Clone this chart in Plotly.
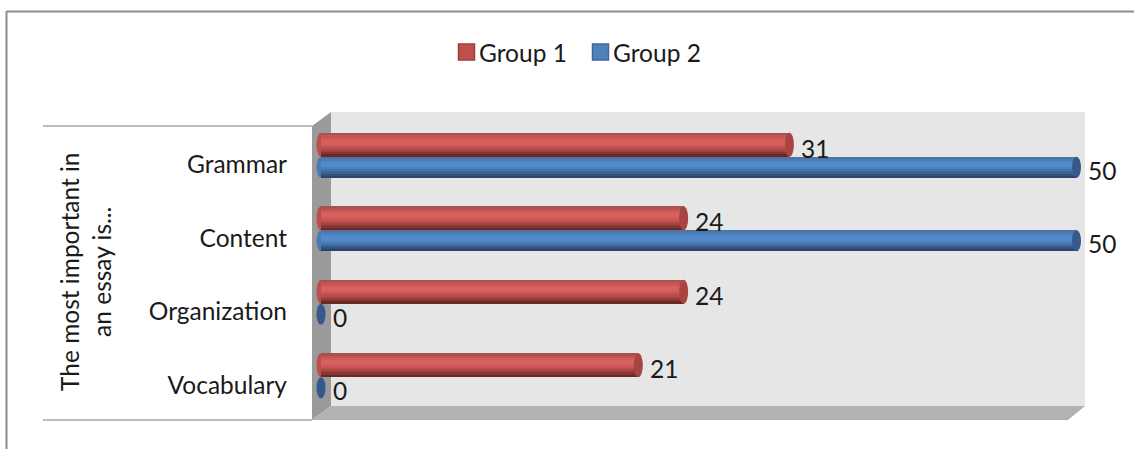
import plotly.graph_objects as go

# ---- data ----
categories = ["Grammar", "Content", "Organization", "Vocabulary"]
group1 = [31, 24, 24, 21]
group2 = [50, 50, 0, 0]
series_names = ["Group 1", "Group 2"]
outer_label = "The most important in<br>an essay is..."

# ---- layout constants (pixels) ----
W, H = 1134, 449
X_ZERO = 321             # pixel of value 0
X_SCALE = 15.11          # pixels per unit
PLOT_L, PLOT_R = 300, 1100
Y_TOP, Y_BOT = 126, 420  # category axis ends
FONT = "Lato, Carlito, Calibri, sans-serif"
FS = 24.5
TXT = "#1a1a1a"
CAP = 4.5

def px(x): return x / W
def py(y): return 1 - y / H
def path(points):
    return "M " + " L ".join(f"{px(x):.5f},{py(y):.5f}" for x, y in points) + " Z"

red_top, red_bot = -30, -6
blue_top, blue_bot = -6, 15
red_shades = ["#a85250", "#c25654", "#d05c5a", "#d8615e", "#d65f5c", "#cb5755", "#b94d4b",
              "#a24240", "#873533", "#6a2725"]
blue_shades = ["#4f74a3", "#4c7ab2", "#5086c4", "#548bcd", "#528acb", "#4c80bd", "#4573aa",
               "#3c6494", "#32537c", "#2b4468"]
red_cap, blue_cap = "#a84543", "#35598a"
red_left, blue_left = "#bb4f4d", "#4a7bb6"
CAT_PX = (Y_BOT - Y_TOP) / len(categories)

fig = go.Figure()

def add_series(name, values, top, bot, shades):
    step = (bot - top) / len(shades)
    for i, c in enumerate(shades):
        fig.add_trace(go.Bar(
            y=categories, x=values, orientation="h", name=name,
            offset=(top + i * step) / CAT_PX,
            width=(bot - top - i * step) / CAT_PX,
            marker=dict(color=c, line=dict(width=0)),
            showlegend=False, hoverinfo="skip",
        ))

add_series(series_names[1], group2, blue_top, blue_bot, blue_shades)
add_series(series_names[0], group1, red_top, red_bot, red_shades)

# legend text entries; the swatches are drawn larger as shapes below
for nm, col in [(series_names[0], "rgba(192,80,77,0)"), (series_names[1], "rgba(79,129,189,0)")]:
    fig.add_trace(go.Bar(y=[None], x=[None], orientation="h", name=nm,
                         marker=dict(color=col, line=dict(width=0))))

shapes = [
    dict(type="line", xref="paper", yref="paper", x0=px(6.5), x1=1, y0=py(11.5), y1=py(11.5),
         line=dict(color="#8c8c8c", width=2), layer="below"),
    dict(type="line", xref="paper", yref="paper", x0=px(6.5), x1=px(6.5), y0=py(11), y1=0,
         line=dict(color="#8c8c8c", width=2), layer="below"),
    dict(type="path", xref="paper", yref="paper", layer="below", line_width=0, fillcolor="#e6e6e6",
         path=path([(331, 112), (1085, 112), (1085, 406), (331, 406)])),
    dict(type="path", xref="paper", yref="paper", layer="below", line_width=0, fillcolor="#9a9a9a",
         path=path([(312, 126), (331, 112), (331, 406), (312, 420)])),
    dict(type="path", xref="paper", yref="paper", layer="below", line_width=0, fillcolor="#b2b2b2",
         path=path([(331, 406), (1085, 406), (1068, 420), (312, 420)])),
    dict(type="line", xref="paper", yref="paper", x0=px(43), x1=px(312), y0=py(126), y1=py(126),
         line=dict(color="#a6a6a6", width=1.5), layer="below"),
    dict(type="line", xref="paper", yref="paper", x0=px(43), x1=px(312), y0=py(420), y1=py(420),
         line=dict(color="#a6a6a6", width=1.5), layer="below"),
    # legend swatches
    dict(type="rect", xref="paper", yref="paper", x0=px(458.5), x1=px(474.5), y0=py(60), y1=py(44),
         fillcolor="#c0504d", line=dict(color="#98403e", width=1.5), layer="below"),
    dict(type="rect", xref="paper", yref="paper", x0=px(592.5), x1=px(608.5), y0=py(60), y1=py(44),
         fillcolor="#4f81bd", line=dict(color="#3f6797", width=1.5), layer="below"),
]

def add_caps(values, top, bot, left_col, cap_col):
    centre = -(top + bot) / 2
    half = (bot - top) / 2
    for cat, v in zip(categories, values):
        if v > 0:
            shapes.append(dict(type="circle", xsizemode="pixel", ysizemode="pixel", xref="x", yref="y",
                               xanchor=0, yanchor=cat, x0=-CAP, x1=CAP,
                               y0=centre - half, y1=centre + half,
                               fillcolor=left_col, line_width=0, layer="below"))
        shapes.append(dict(type="circle", xsizemode="pixel", ysizemode="pixel", xref="x", yref="y",
                           xanchor=v, yanchor=cat, x0=-CAP, x1=CAP,
                           y0=centre - half, y1=centre + half,
                           fillcolor=cap_col, line_width=0, layer="above"))

add_caps(group1, red_top, red_bot, red_left, red_cap)
add_caps(group2, blue_top, blue_bot, blue_left, blue_cap)

annotations = []
for vals, dy in [(group1, 14.5), (group2, -7.5)]:
    for cat, v in zip(categories, vals):
        annotations.append(dict(x=v, y=cat, xref="x", yref="y", text=str(v), showarrow=False,
                                xanchor="left", yanchor="middle", xshift=9.5, yshift=dy,
                                font=dict(size=FS, color=TXT, family=FONT)))
annotations.append(dict(xref="paper", yref="paper", x=px(85), y=py(272), text=outer_label,
                        textangle=-90, showarrow=False, xanchor="center", yanchor="middle",
                        font=dict(size=FS, color=TXT, family=FONT), align="center"))

fig.update_layout(
    width=W, height=H, autosize=False,
    margin=dict(l=0, r=0, t=0, b=0, pad=0),
    paper_bgcolor="white", plot_bgcolor="rgba(0,0,0,0)",
    barmode="overlay", bargap=0,
    font=dict(family=FONT, size=FS, color=TXT),
    xaxis=dict(domain=[px(PLOT_L), px(PLOT_R)],
               range=[(PLOT_L - X_ZERO) / X_SCALE, (PLOT_R - X_ZERO) / X_SCALE],
               visible=False, fixedrange=True),
    yaxis=dict(domain=[py(Y_BOT), py(Y_TOP)], type="category", categoryorder="array",
               categoryarray=categories, range=[3.5, -0.5], showgrid=False, zeroline=False,
               showline=False, ticks="", anchor="free", position=px(287), ticklabelshift=-2,
               tickfont=dict(size=FS, color=TXT, family=FONT), fixedrange=True),
    legend=dict(orientation="h", x=px(439), y=py(30), xanchor="left", yanchor="top",
                font=dict(size=FS, color=TXT, family=FONT), traceorder="normal",
                entrywidth=89, entrywidthmode="pixels", bgcolor="rgba(0,0,0,0)"),
    shapes=shapes, annotations=annotations, showlegend=True,
)

fig.write_html("out.html", config={"displayModeBar": False},
               post_script="document.body.style.margin='0';document.documentElement.style.overflow='hidden';")
